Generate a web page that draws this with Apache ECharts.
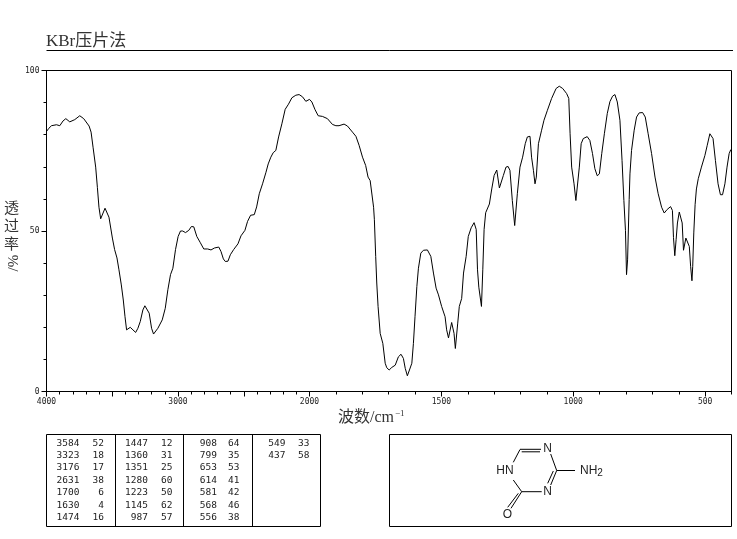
<!DOCTYPE html>
<html>
<head>
<meta charset="utf-8">
<style>html,body{margin:0;padding:0;background:#fff}#c{width:737px;height:539px}</style>
<script src="https://cdn.jsdelivr.net/npm/echarts@6/dist/echarts.min.js"></script>
</head>
<body>
<div id="c"></div>
<script>
var wavenumber = [4000,3982,3962,3924,3899,3874,3853,3823,3785,3747,3717,3676,3661,3646,3626,3613,3601,3588,3575,3555,3540,3525,3499,3482,3464,3449,3431,3416,3403,3391,3381,3363,3343,3322,3305,3287,3267,3252,3237,3219,3201,3186,3173,3153,3120,3097,3077,3057,3039,3019,2999,2981,2964,2943,2918,2898,2880,2857,2832,2804,2774,2749,2723,2690,2673,2655,2640,2620,2602,2577,2544,2521,2491,2471,2448,2420,2402,2382,2357,2331,2314,2294,2276,2256,2235,2210,2185,2160,2134,2104,2079,2053,2028,2000,
1991,1979,1967,1951,1932,1913,1900,1888,1869,1856,1837,1824,1812,1799,1787,1778,1770,1757,1754,1749,1745,1740,1732,1722,1713,1707,1698,1688,1675,1663,1653,1644,1637,1629,1621,1612,1606,1600,1593,1587,1578,1568,1553,1540,1530,1520,1511,1499,1486,1480,1473,1467,1461,1457,1452,1447,1443,1438,1432,1423,1416,1406,1398,1387,1376,1368,1363,1358,1353,1348,1343,1338,1332,1328,1318,1309,1300,1290,1285,1280,1273,1265,1255,1247,1240,1231,1222,1218,1212,1202,1192,1182,1174,1164,1158,1151,1145,1140,1132,1120,1111,1098,1082,1065,1053,1040,1025,1017,1012,1006,997,990,985,977,970,962,947,937,927,918,909,901,892,882,871,861,851,842,833,823,815,808,802,798,794,788,785,779,769,760,750,737,727,716,703,690,678,665,655,644,631,624,620,615,613,610,605,598,592,587,582,578,573,567,560,555,550,547,543,538,533,526,514,501,492,482,476,470,461,451,442,434,425,417,409,403,400];
var transmittance = [81,82,82.8,83.1,82.8,84.3,85,84,84.7,85.9,85,82.7,80.8,76.1,69.9,63.6,57.4,53.8,54,57.1,57.1,54.3,47.8,44.2,41.6,37.9,33.2,28.5,23.3,19.2,19.2,20,19.2,18.4,19.7,21.8,25.4,26.7,26.9,24.4,19.7,17.9,17.6,19.7,22.3,25.9,31.7,36.4,38.4,44.2,48.3,50,50,49.5,50.2,51.4,51.3,48.3,46.5,44.4,44.4,44.1,44.7,45,43.6,41.3,40.5,40.6,42.6,44.2,46,48.5,50.2,53,54.9,55.1,57.5,61.6,64.7,68.3,70.9,73,74.4,75.1,79.3,83.4,87.9,89.5,91.5,92.3,92.5,91.8,90.4,91,
90.2,87.8,85.9,85.7,85,83.2,82.8,82.8,83.3,82.7,80.8,79.5,76.7,73,70.4,66.8,65.7,57.4,53.5,42.1,33.8,26.5,18.1,15,8.8,7.4,6.7,7.5,8.2,10.8,11.6,10.3,7.2,4.9,6.7,8.8,15,23.3,32.7,38.4,43.1,44,44.1,42.1,36.9,32.2,30.1,26.5,23.3,19.2,16.7,16.7,21.5,21.5,18.1,13.4,13.4,21.3,26.5,29,36.9,42.1,48.3,51,52.6,50.5,37.9,32.5,32.5,26.5,37.9,50.5,55.7,55.3,58.4,63.1,67.3,69,68.9,63.4,63.4,67.3,69.9,70.1,68.9,59.5,51.7,51.7,61.6,69.9,73,77.2,79.3,79.5,73,68.9,64.7,66.8,77.2,81.4,84.5,87.6,91.3,94.4,95.1,94.4,92.8,91.3,80.3,69.9,64.7,59.5,59.5,69.9,77.2,78.8,79.4,78.2,74.1,69.4,67.2,67.8,74.1,80.3,86.6,90.3,92,92.5,90.2,84.5,72,59.5,50.1,36.4,41,59.8,67.8,75.1,81.4,85.5,86.8,86.9,85.5,80.3,74.1,66.8,61.6,57.4,55.6,56.7,57.6,56.4,48,42.3,42.3,47.3,52.5,55.9,55.9,52.5,44,44.2,47.8,48.1,45.2,39,34.5,39,49.4,58.2,63.1,66.3,69.9,73.5,76.7,80.3,80.8,78.8,72,64.7,61.3,61.3,64.7,69.9,74.1,75.3,75.5];

var leftTickLabels = [4000,3000,2000];
var rightTickLabels = [1500,1000,500];
var yTickLabels = [0,50,100];

var titleText = 'KBr压片法';
var yAxisTitle = ['透','过','率'];
var yAxisUnit = '%/';

var peakColumn1 = [[3584,52],[3323,18],[3176,17],[2631,38],[1700,6],[1630,4],[1474,16]];
var peakColumn2 = [[1447,12],[1360,31],[1351,25],[1280,60],[1223,50],[1145,62],[987,57]];
var peakColumn3 = [[908,64],[799,35],[653,53],[614,41],[581,42],[568,46],[556,38]];
var peakColumn4 = [[549,33],[437,58]];

var series1 = [], series2 = [];
wavenumber.forEach(function (w, i) {
  if (w >= 2000) series1.push([w, transmittance[i]]);
  if (w <= 2000) series2.push([w, transmittance[i]]);
});

var MONO = '"DejaVu Sans Mono", monospace';
var SERIF = '"Liberation Serif", "Noto Sans CJK SC", serif';
var INK = '#000';
var TEXT = '#222';

function lineEl(x1, y1, x2, y2) {
  return { type: 'line', silent: true, shape: { x1: x1, y1: y1, x2: x2, y2: y2 }, style: { stroke: INK, lineWidth: 1 } };
}
function textEl(x, y, t, opt) {
  opt = opt || {};
  return { type: 'text', silent: true, x: x, y: y, rotation: opt.rotation || 0,
    style: { text: t, fill: opt.fill || TEXT, font: opt.font, align: opt.align || 'left', verticalAlign: 'middle', rich: opt.rich } };
}
function plain(v) { return String(v); }

var graphics = [];
graphics.push(lineEl(46.5, 50.5, 733, 50.5));

var yAxisTitleY = [209, 227, 245];
yAxisTitle.forEach(function (c, i) {
  graphics.push(textEl(11.5, yAxisTitleY[i], c, { font: '15px ' + SERIF, align: 'center', fill: '#333' }));
});
graphics.push(textEl(11.5, 263, yAxisUnit, { font: '15px ' + SERIF, align: 'center', rotation: -Math.PI / 2, fill: '#333' }));

graphics.push({
  type: 'text', silent: true, x: 338, y: 418,
  style: {
    text: '{a|波数/cm}{s|−1}', verticalAlign: 'middle',
    rich: {
      a: { font: '16px ' + SERIF, fill: '#333' },
      s: { font: '9px ' + SERIF, fill: '#333', verticalAlign: 'top', padding: [0, 0, 8, 1] }
    }
  }
});

graphics.push({ type: 'rect', silent: true, shape: { x: 46.5, y: 434.5, width: 274, height: 92 }, style: { fill: 'none', stroke: INK, lineWidth: 1 } });
[115.5, 183.5, 252.5].forEach(function (x) { graphics.push(lineEl(x, 434.5, x, 526.5)); });
var rowY = [443.5, 455.8, 468, 480.3, 492.8, 505.3, 517.7];
var tableCols = [
  { rows: peakColumn1, a: 79.5, b: 104 },
  { rows: peakColumn2, a: 148, b: 172.5 },
  { rows: peakColumn3, a: 217, b: 239.5 },
  { rows: peakColumn4, a: 285.5, b: 309.5 }
];
tableCols.forEach(function (col) {
  col.rows.forEach(function (r, i) {
    graphics.push(textEl(col.a, rowY[i], String(r[0]), { font: '9.5px ' + MONO, align: 'right' }));
    graphics.push(textEl(col.b, rowY[i], String(r[1]), { font: '9.5px ' + MONO, align: 'right' }));
  });
});

graphics.push({ type: 'rect', silent: true, shape: { x: 389.5, y: 434.5, width: 342, height: 92 }, style: { fill: 'none', stroke: INK, lineWidth: 1 } });
[
  [520, 449.3, 541, 449.3], [521.7, 451.8, 540, 451.8],
  [520, 449.5, 513.3, 462.3],
  [550.7, 454, 556.7, 470.5],
  [556.7, 470.5, 550.7, 485], [553.3, 471, 547.7, 483.3],
  [556.7, 470.5, 575, 470.5],
  [541.7, 491.7, 521.7, 491.7],
  [513.3, 480, 521.7, 491.7],
  [521.7, 491.7, 511, 508.3], [518.3, 493.3, 507.7, 507.3]
].forEach(function (b) { graphics.push(lineEl(b[0], b[1], b[2], b[3])); });
var ATOM = '12px "Liberation Sans", sans-serif';
graphics.push(textEl(547.5, 449, 'N', { font: ATOM, align: 'center' }));
graphics.push(textEl(547.5, 491.5, 'N', { font: ATOM, align: 'center' }));
graphics.push(textEl(505, 471, 'HN', { font: ATOM, align: 'center' }));
graphics.push(textEl(507.5, 515, 'O', { font: ATOM, align: 'center' }));
graphics.push({
  type: 'text', silent: true, x: 580, y: 471,
  style: { text: '{a|NH}{s|2}', verticalAlign: 'middle',
    rich: { a: { font: ATOM, fill: TEXT }, s: { font: '10px "Liberation Sans", sans-serif', fill: TEXT, padding: [5, 0, 0, 0] } } }
});

var axisLine = { show: true, onZero: false, lineStyle: { color: INK, width: 1 } };
var noLine = { show: false };
var labelStyle = { color: TEXT, fontFamily: MONO, fontSize: 8, formatter: plain };

var option = {
  animation: false,
  backgroundColor: '#fff',
  title: { text: titleText, left: 46, top: 33, padding: 0, textStyle: { fontFamily: SERIF, fontSize: 17, fontWeight: 'normal', color: '#333' } },
  grid: [
    { left: 46.5, width: 263, top: 70.5, height: 321 },
    { left: 309.5, width: 422, top: 70.5, height: 321 },
    { left: 46.5, width: 685, top: 70.5, height: 321, show: true, borderColor: INK, borderWidth: 1, backgroundColor: 'transparent' }
  ],
  xAxis: [
    { gridIndex: 0, position: 'bottom', type: 'value', inverse: true, min: 2000, max: 4000, interval: 100, splitLine: { show: false },
      axisLine: axisLine, axisTick: { length: 3, lineStyle: { color: INK } }, axisLabel: { show: false } },
    { gridIndex: 0, position: 'bottom', type: 'value', inverse: true, min: 2000, max: 4000, interval: 500, splitLine: { show: false },
      axisLine: noLine, axisTick: { length: 5, lineStyle: { color: INK } },
      axisLabel: Object.assign({ show: true, margin: 6, customValues: leftTickLabels }, labelStyle) },
    { gridIndex: 1, position: 'bottom', type: 'value', inverse: true, min: 400, max: 2000, interval: 100, splitLine: { show: false },
      axisLine: axisLine, axisTick: { length: 3, lineStyle: { color: INK } }, axisLabel: { show: false } },
    { gridIndex: 1, position: 'bottom', type: 'value', inverse: true, min: 400, max: 2000, splitLine: { show: false },
      axisLine: noLine, axisTick: { length: 5, customValues: rightTickLabels, lineStyle: { color: INK } },
      axisLabel: Object.assign({ show: true, margin: 6, customValues: rightTickLabels }, labelStyle) }
  ],
  yAxis: [
    { gridIndex: 0, position: 'left', type: 'value', min: 0, max: 100, interval: 10, splitLine: { show: false },
      axisLine: axisLine, axisTick: { length: 3, lineStyle: { color: INK } }, axisLabel: { show: false } },
    { gridIndex: 0, position: 'left', type: 'value', min: 0, max: 100, interval: 50, splitLine: { show: false },
      axisLine: noLine, axisTick: { length: 5, lineStyle: { color: INK } },
      axisLabel: Object.assign({ show: true, margin: 7, customValues: yTickLabels }, labelStyle) },
    { gridIndex: 1, type: 'value', min: 0, max: 100, show: false }
  ],
  series: [
    { type: 'line', xAxisIndex: 0, yAxisIndex: 0, data: series1, showSymbol: false, smooth: false, silent: true, lineStyle: { color: INK, width: 1 } },
    { type: 'line', xAxisIndex: 2, yAxisIndex: 2, data: series2, showSymbol: false, smooth: false, silent: true, lineStyle: { color: INK, width: 1 } }
  ],
  graphic: { elements: graphics }
};
var chart = echarts.init(document.getElementById('c'), null, { renderer: 'canvas' });
chart.setOption(option);
</script>
</body>
</html>
